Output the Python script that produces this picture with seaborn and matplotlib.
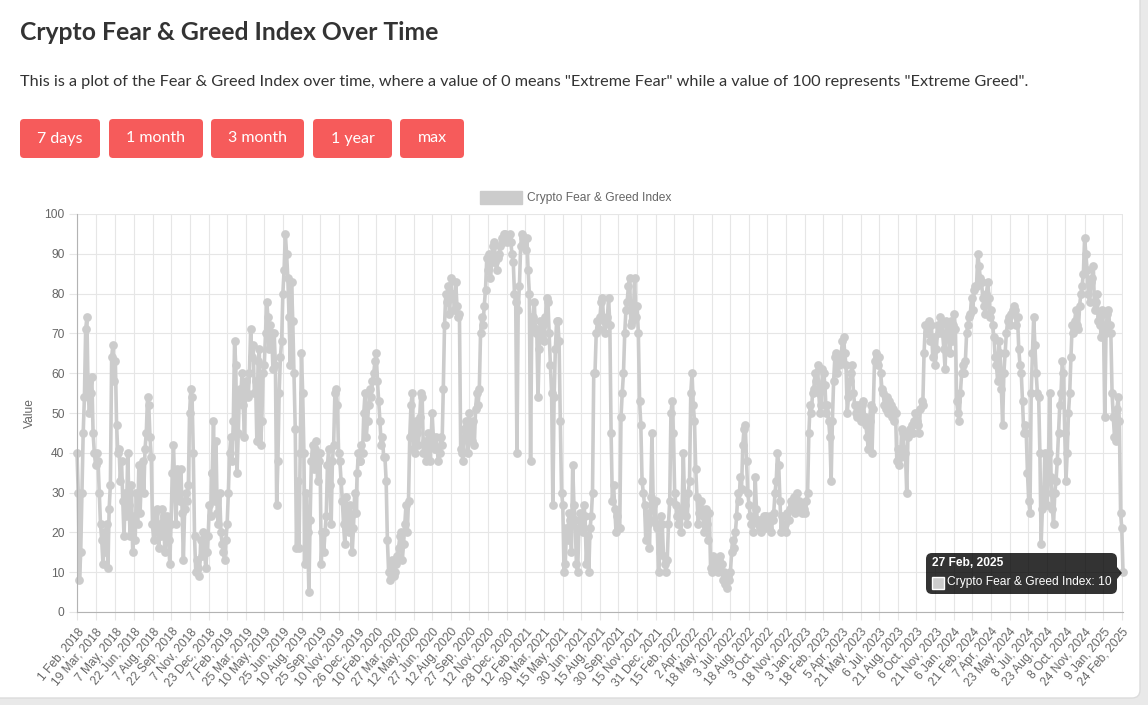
"""
Crypto Fear & Greed Index over time - static re-draw of the web chart.
Values are read off the original chart, about one every 3 days
(one row per month, ten values per row).
"""
import numpy as np
import pandas as pd
import matplotlib
matplotlib.use("Agg")
import matplotlib.pyplot as plt
import seaborn as sns
from matplotlib.patches import FancyBboxPatch, Rectangle, Polygon

# --- 1. CONFIGURATION ---
W, H = 1148, 705
OUT_PATH = "out.png"

LINE_COLOR = "#cccccc"
BUTTON_COLOR = "#f65b5b"
TEXT_DARK = "#333333"
TEXT_CHART = "#666666"
GRID_COLOR = "#e6e6e6"

PAGE_FONT = "Lato"
CHART_FONT = "Liberation Sans"

TITLE = "Crypto Fear & Greed Index Over Time"
SUBTITLE = ('This is a plot of the Fear & Greed Index over time, where a value of 0 means '
            '"Extreme Fear" while a value of 100 represents "Extreme Greed".')
BUTTONS = ["7 days", "1 month", "3 month", "1 year", "max"]
SERIES_NAME = "Crypto Fear & Greed Index"
Y_LABEL = "Value"

# --- 2. DATA (one row per month) ---
FG_2018 = [
    40, 30, 8, 15, 30, 45, 54, 71, 74, 55,      # Feb
    50, 55, 59, 45, 40, 37, 40, 38, 30, 22,     # Mar
    18, 12, 20, 15, 22, 11, 26, 32, 64, 67,     # Apr
    58, 63, 47, 40, 41, 33, 38, 28, 19, 30,     # May
    24, 40, 27, 19, 32, 15, 24, 18, 30, 22,     # Jun
    37, 25, 34, 38, 30, 41, 45, 54, 52, 44,     # Jul
    39, 22, 18, 25, 20, 26, 16, 22, 19, 26,     # Aug
    24, 15, 21, 24, 18, 12, 22, 35, 42, 31,     # Sep
    22, 36, 32, 28, 36, 25, 13, 26, 30, 28,     # Oct
    32, 50, 56, 54, 40, 19, 10, 13, 11, 9,      # Nov
    18, 14, 20, 17, 11, 15, 19, 27, 24, 35,     # Dec
]
FG_2019 = [
    35, 48, 28, 43, 25, 22, 30, 20, 17, 15,
    13, 18, 22, 30, 40, 44, 38, 48, 68, 62,
    35, 45, 56, 54, 60, 52, 44, 58, 55, 54,
    60, 71, 64, 67, 55, 58, 43, 63, 66, 42,
    48, 60, 62, 70, 78, 74, 66, 72, 70, 61,
    70, 62, 27, 38, 55, 64, 68, 80, 86, 95,
    90, 84, 74, 62, 83, 73, 60, 46, 16, 33,
    16, 40, 65, 55, 40, 12, 30, 20, 5, 23,
    38, 42, 36, 41, 43, 33, 38, 40, 12, 20,
    15, 20, 24, 37, 41, 32, 22, 38, 42, 55,
    56, 52, 40, 38, 33, 28, 22, 17, 29, 24,
    20, 27, 24, 15, 21, 30, 25, 35, 40, 38,
]
FG_2020 = [
    38, 42, 40, 50, 55, 44, 48, 52, 56, 54,
    58, 60, 63, 65, 58, 53, 48, 42, 44, 39,
    39, 33, 18, 10, 8, 11, 13, 9, 10, 12,
    14, 16, 19, 20, 13, 17, 22, 27, 20, 28,
    44, 52, 55, 41, 40, 48, 45, 42, 49, 55,
    54, 40, 43, 38, 40, 45, 38, 42, 50, 44,
    41, 44, 41, 38, 40, 44, 42, 56, 72, 80,
    78, 82, 75, 84, 79, 80, 76, 83, 77, 74,
    75, 41, 40, 38, 46, 48, 44, 40, 50, 45,
    43, 48, 42, 51, 55, 52, 56, 70, 74, 72,
    77, 81, 89, 86, 90, 84, 88, 92, 93, 88,
    86, 89, 90, 92, 94, 93, 95, 95, 93, 94,
]
FG_2021 = [
    94, 95, 93, 90, 88, 80, 78, 40, 76, 82,
    92, 95, 94, 93, 91, 94, 86, 80, 38, 74,
    74, 78, 70, 71, 54, 66, 73, 69, 72, 68,
    74, 79, 78, 70, 62, 55, 27, 54, 66, 73,
    73, 68, 48, 30, 27, 10, 12, 21, 18, 25,
    23, 15, 37, 27, 23, 12, 10, 21, 25, 21,
    20, 27, 24, 12, 19, 10, 21, 24, 30, 60,
    60, 70, 73, 71, 74, 78, 79, 73, 70, 73,
    74, 79, 72, 45, 28, 32, 26, 20, 24, 21,
    21, 49, 55, 60, 70, 76, 78, 82, 84, 72,
    73, 75, 84, 74, 77, 70, 53, 47, 33, 30,
    27, 18, 25, 22, 16, 29, 45, 27, 23, 28,
]
FG_2022 = [
    22, 21, 10, 15, 24, 22, 14, 12, 10, 13,
    22, 28, 50, 53, 45, 30, 27, 24, 22, 25,
    20, 26, 40, 27, 24, 22, 30, 33, 55, 60,
    52, 48, 36, 29, 22, 25, 28, 26, 24, 20,
    26, 22, 18, 25, 11, 10, 14, 13, 12, 11,
    10, 13, 14, 12, 8, 10, 7, 6, 9, 8,
    10, 15, 18, 16, 20, 24, 30, 28, 34, 31,
    42, 46, 47, 38, 30, 27, 24, 22, 20, 23,
    34, 26, 22, 23, 21, 20, 22, 24, 21, 24,
    22, 21, 24, 20, 23, 25, 30, 33, 40, 37,
    28, 20, 24, 21, 22, 20, 25, 23, 26, 28,
    27, 29, 25, 26, 30, 28, 27, 26, 25, 27,
]
FG_2023 = [
    26, 25, 28, 30, 45, 52, 50, 55, 56, 60,
    58, 62, 55, 50, 52, 61, 60, 57, 50, 52,
    48, 44, 33, 48, 58, 64, 65, 60, 62, 63,
    64, 68, 69, 65, 62, 50, 54, 58, 60, 62,
    55, 52, 50, 49, 52, 50, 48, 52, 53, 49,
    47, 44, 41, 48, 52, 40, 51, 63, 65, 64,
    62, 64, 60, 56, 55, 52, 51, 54, 50, 53,
    52, 49, 51, 48, 50, 38, 41, 37, 39, 46,
    45, 41, 40, 30, 44, 45, 46, 47, 45, 48,
    50, 48, 47, 45, 51, 53, 52, 65, 72, 70,
    70, 73, 68, 72, 64, 69, 62, 66, 72, 70,
    74, 72, 70, 66, 61, 73, 72, 70, 65, 73,
]
FG_2024 = [
    68, 72, 75, 71, 53, 50, 48, 55, 60, 62,
    60, 63, 70, 72, 74, 75, 79, 76, 81, 82,
    82, 90, 87, 84, 83, 79, 77, 75, 80, 83,
    79, 74, 76, 72, 69, 64, 62, 58, 68, 65,
    56, 47, 60, 65, 70, 73, 74, 72, 75, 76,
    77, 76, 72, 74, 66, 62, 60, 53, 45, 47,
    45, 35, 28, 25, 55, 65, 74, 67, 60, 55,
    54, 40, 17, 26, 28, 40, 30, 27, 40, 55,
    34, 26, 22, 30, 33, 38, 45, 52, 55, 63,
    60, 45, 33, 40, 50, 55, 64, 72, 70, 73,
    76, 72, 71, 77, 80, 82, 85, 94, 90, 86,
    80, 78, 83, 84, 87, 76, 78, 80, 73, 72,
]
FG_2025 = [
    74, 69, 76, 71, 49, 70, 75, 76, 72, 70,
    55, 49, 44, 43, 51, 54, 48, 25, 21, 10,
]

YEAR_VALUES = [FG_2018, FG_2019, FG_2020, FG_2021, FG_2022, FG_2023, FG_2024, FG_2025]
YEAR_SPANS = [
    ("2018-02-01", "2018-12-31"), ("2019-01-01", "2019-12-31"),
    ("2020-01-01", "2020-12-31"), ("2021-01-01", "2021-12-31"),
    ("2022-01-01", "2022-12-31"), ("2023-01-01", "2023-12-31"),
    ("2024-01-01", "2024-12-31"), ("2025-01-01", "2025-02-27"),
]

X_TICK_LABELS = [
    "1 Feb, 2018", "19 Mar, 2018", "7 May, 2018", "22 Jun, 2018", "7 Aug, 2018",
    "22 Sep, 2018", "7 Nov, 2018", "23 Dec, 2018", "7 Feb, 2019", "25 Mar, 2019",
    "10 May, 2019", "25 Jun, 2019", "10 Aug, 2019", "25 Sep, 2019", "10 Nov, 2019",
    "26 Dec, 2019", "10 Feb, 2020", "27 Mar, 2020", "12 May, 2020", "27 Jun, 2020",
    "12 Aug, 2020", "27 Sep, 2020", "12 Nov, 2020", "28 Dec, 2020", "12 Feb, 2021",
    "30 Mar, 2021", "15 May, 2021", "30 Jun, 2021", "15 Aug, 2021", "30 Sep, 2021",
    "15 Nov, 2021", "31 Dec, 2021", "15 Feb, 2022", "2 Apr, 2022", "18 May, 2022",
    "3 Jul, 2022", "18 Aug, 2022", "3 Oct, 2022", "18 Nov, 2022", "3 Jan, 2023",
    "18 Feb, 2023", "5 Apr, 2023", "21 May, 2023", "6 Jul, 2023", "21 Aug, 2023",
    "6 Oct, 2023", "21 Nov, 2023", "6 Jan, 2024", "21 Feb, 2024", "7 Apr, 2024",
    "23 May, 2024", "8 Jul, 2024", "23 Aug, 2024", "8 Oct, 2024", "24 Nov, 2024",
    "9 Jan, 2025", "24 Feb, 2025",
]
Y_TICKS = list(range(0, 101, 10))


def build_frame():
    parts = []
    for vals, (start, end) in zip(YEAR_VALUES, YEAR_SPANS):
        dates = pd.date_range(start, end, periods=len(vals))
        parts.append(pd.DataFrame({"date": dates, "value": vals}))
    return pd.concat(parts, ignore_index=True)


def px(size_px):
    # css pixels -> points at dpi 100
    return size_px * 0.72


def draw_page(ov, bg):
    # card background
    bg.add_patch(Rectangle((0, 0), W, H, color="#e9e9e9"))
    bg.add_patch(FancyBboxPatch((-20, -20), 1160, 718,
                                boxstyle="round,pad=0,rounding_size=8",
                                fc="white", ec="#dcdcdc", lw=1))

    ov.text(20, 33, TITLE, fontsize=px(24.7), fontweight="bold", color=TEXT_DARK,
            family=PAGE_FONT, va="center", ha="left")
    ov.text(20, 82, SUBTITLE, fontsize=px(16.3), color=TEXT_DARK,
            family=PAGE_FONT, va="center", ha="left")

    # range buttons
    spans = [(20, 100), (109, 203), (211, 304), (313, 392), (400, 464)]
    for label, (x0, x1) in zip(BUTTONS, spans):
        ov.add_patch(FancyBboxPatch((x0, 119), x1 - x0, 39,
                                    boxstyle="round,pad=0,rounding_size=4",
                                    fc=BUTTON_COLOR, ec="none"))
        ov.text((x0 + x1) / 2, 138.5, label, fontsize=px(16), color="white",
                family=PAGE_FONT, ha="center", va="center")

    # legend
    ov.add_patch(Rectangle((480, 191), 42, 13, fc=LINE_COLOR, ec=LINE_COLOR, lw=1))
    ov.text(527, 198, SERIES_NAME, fontsize=px(12), color=TEXT_CHART,
            family=CHART_FONT, ha="left", va="center")

    ov.text(30, 413, Y_LABEL, fontsize=px(12), color=TEXT_CHART, family=CHART_FONT,
            rotation=90, ha="center", va="center")


def draw_tooltip(ov, df):
    last = df.iloc[-1]
    ov.add_patch(FancyBboxPatch((926, 553), 191, 41,
                                boxstyle="round,pad=0,rounding_size=6",
                                fc=(0, 0, 0, 0.8), ec="none"))
    ov.add_patch(Polygon([(1117, 567), (1122, 573), (1117, 579)],
                         closed=True, fc=(0, 0, 0, 0.8), ec="none"))
    ov.text(932, 563.5, last["date"].strftime("%-d %b, %Y"), fontsize=px(12),
            fontweight="bold", color="white", family=CHART_FONT, ha="left", va="center")
    ov.add_patch(Rectangle((932, 576.5), 12, 12, fc=LINE_COLOR, ec="white", lw=1))
    ov.text(947, 582.5, f"{SERIES_NAME}: {int(last['value'])}", fontsize=px(12),
            color="white", family=CHART_FONT, ha="left", va="center")


def generate_chart(df):
    sns.set_theme(style="white")
    plt.rcParams["font.family"] = [CHART_FONT, "DejaVu Sans"]

    fig = plt.figure(figsize=(W / 100, H / 100), dpi=100)

    bg = fig.add_axes([0, 0, 1, 1], zorder=0)
    bg.set_xlim(0, W)
    bg.set_ylim(H, 0)
    bg.axis("off")

    ax = fig.add_axes([77 / W, 1 - 612 / H, 1046 / W, 398 / H], zorder=1)
    sns.lineplot(data=df, x="date", y="value", ax=ax, color=LINE_COLOR,
                 linewidth=2.6, marker="o", markersize=6.3, markeredgewidth=0,
                 estimator=None, sort=False, legend=False)
    for ln in ax.lines:
        ln.set_clip_on(False)

    ax.set_xlim(df["date"].iloc[0], df["date"].iloc[-1])
    ax.set_ylim(0, 100)

    tick_dates = pd.to_datetime(X_TICK_LABELS, format="%d %b, %Y")
    ax.set_xticks(tick_dates)
    ax.set_xticklabels(X_TICK_LABELS, rotation=50, ha="right", rotation_mode="anchor",
                       fontsize=px(12), color=TEXT_CHART)
    ax.set_yticks(Y_TICKS)
    ax.set_yticklabels([str(v) for v in Y_TICKS], fontsize=px(12), color=TEXT_CHART)

    ax.grid(True, color=GRID_COLOR, linewidth=0.8)
    ax.set_axisbelow(True)
    ax.tick_params(axis="both", length=6, width=0.8, color=GRID_COLOR, pad=3,
                   bottom=True, left=True)
    ax.tick_params(axis="x", pad=4)
    for side in ["top", "right"]:
        ax.spines[side].set_visible(False)
    for side in ["left", "bottom"]:
        ax.spines[side].set_color("#b3b3b3")
        ax.spines[side].set_linewidth(0.8)
    ax.set_xlabel("")
    ax.set_ylabel("")

    ov = fig.add_axes([0, 0, 1, 1], zorder=2)
    ov.set_xlim(0, W)
    ov.set_ylim(H, 0)
    ov.axis("off")
    ov.patch.set_alpha(0)

    draw_page(ov, bg)
    draw_tooltip(ov, df)

    fig.savefig(OUT_PATH, dpi=100)
    plt.close(fig)


if __name__ == "__main__":
    df_fg = build_frame()
    generate_chart(df_fg)
